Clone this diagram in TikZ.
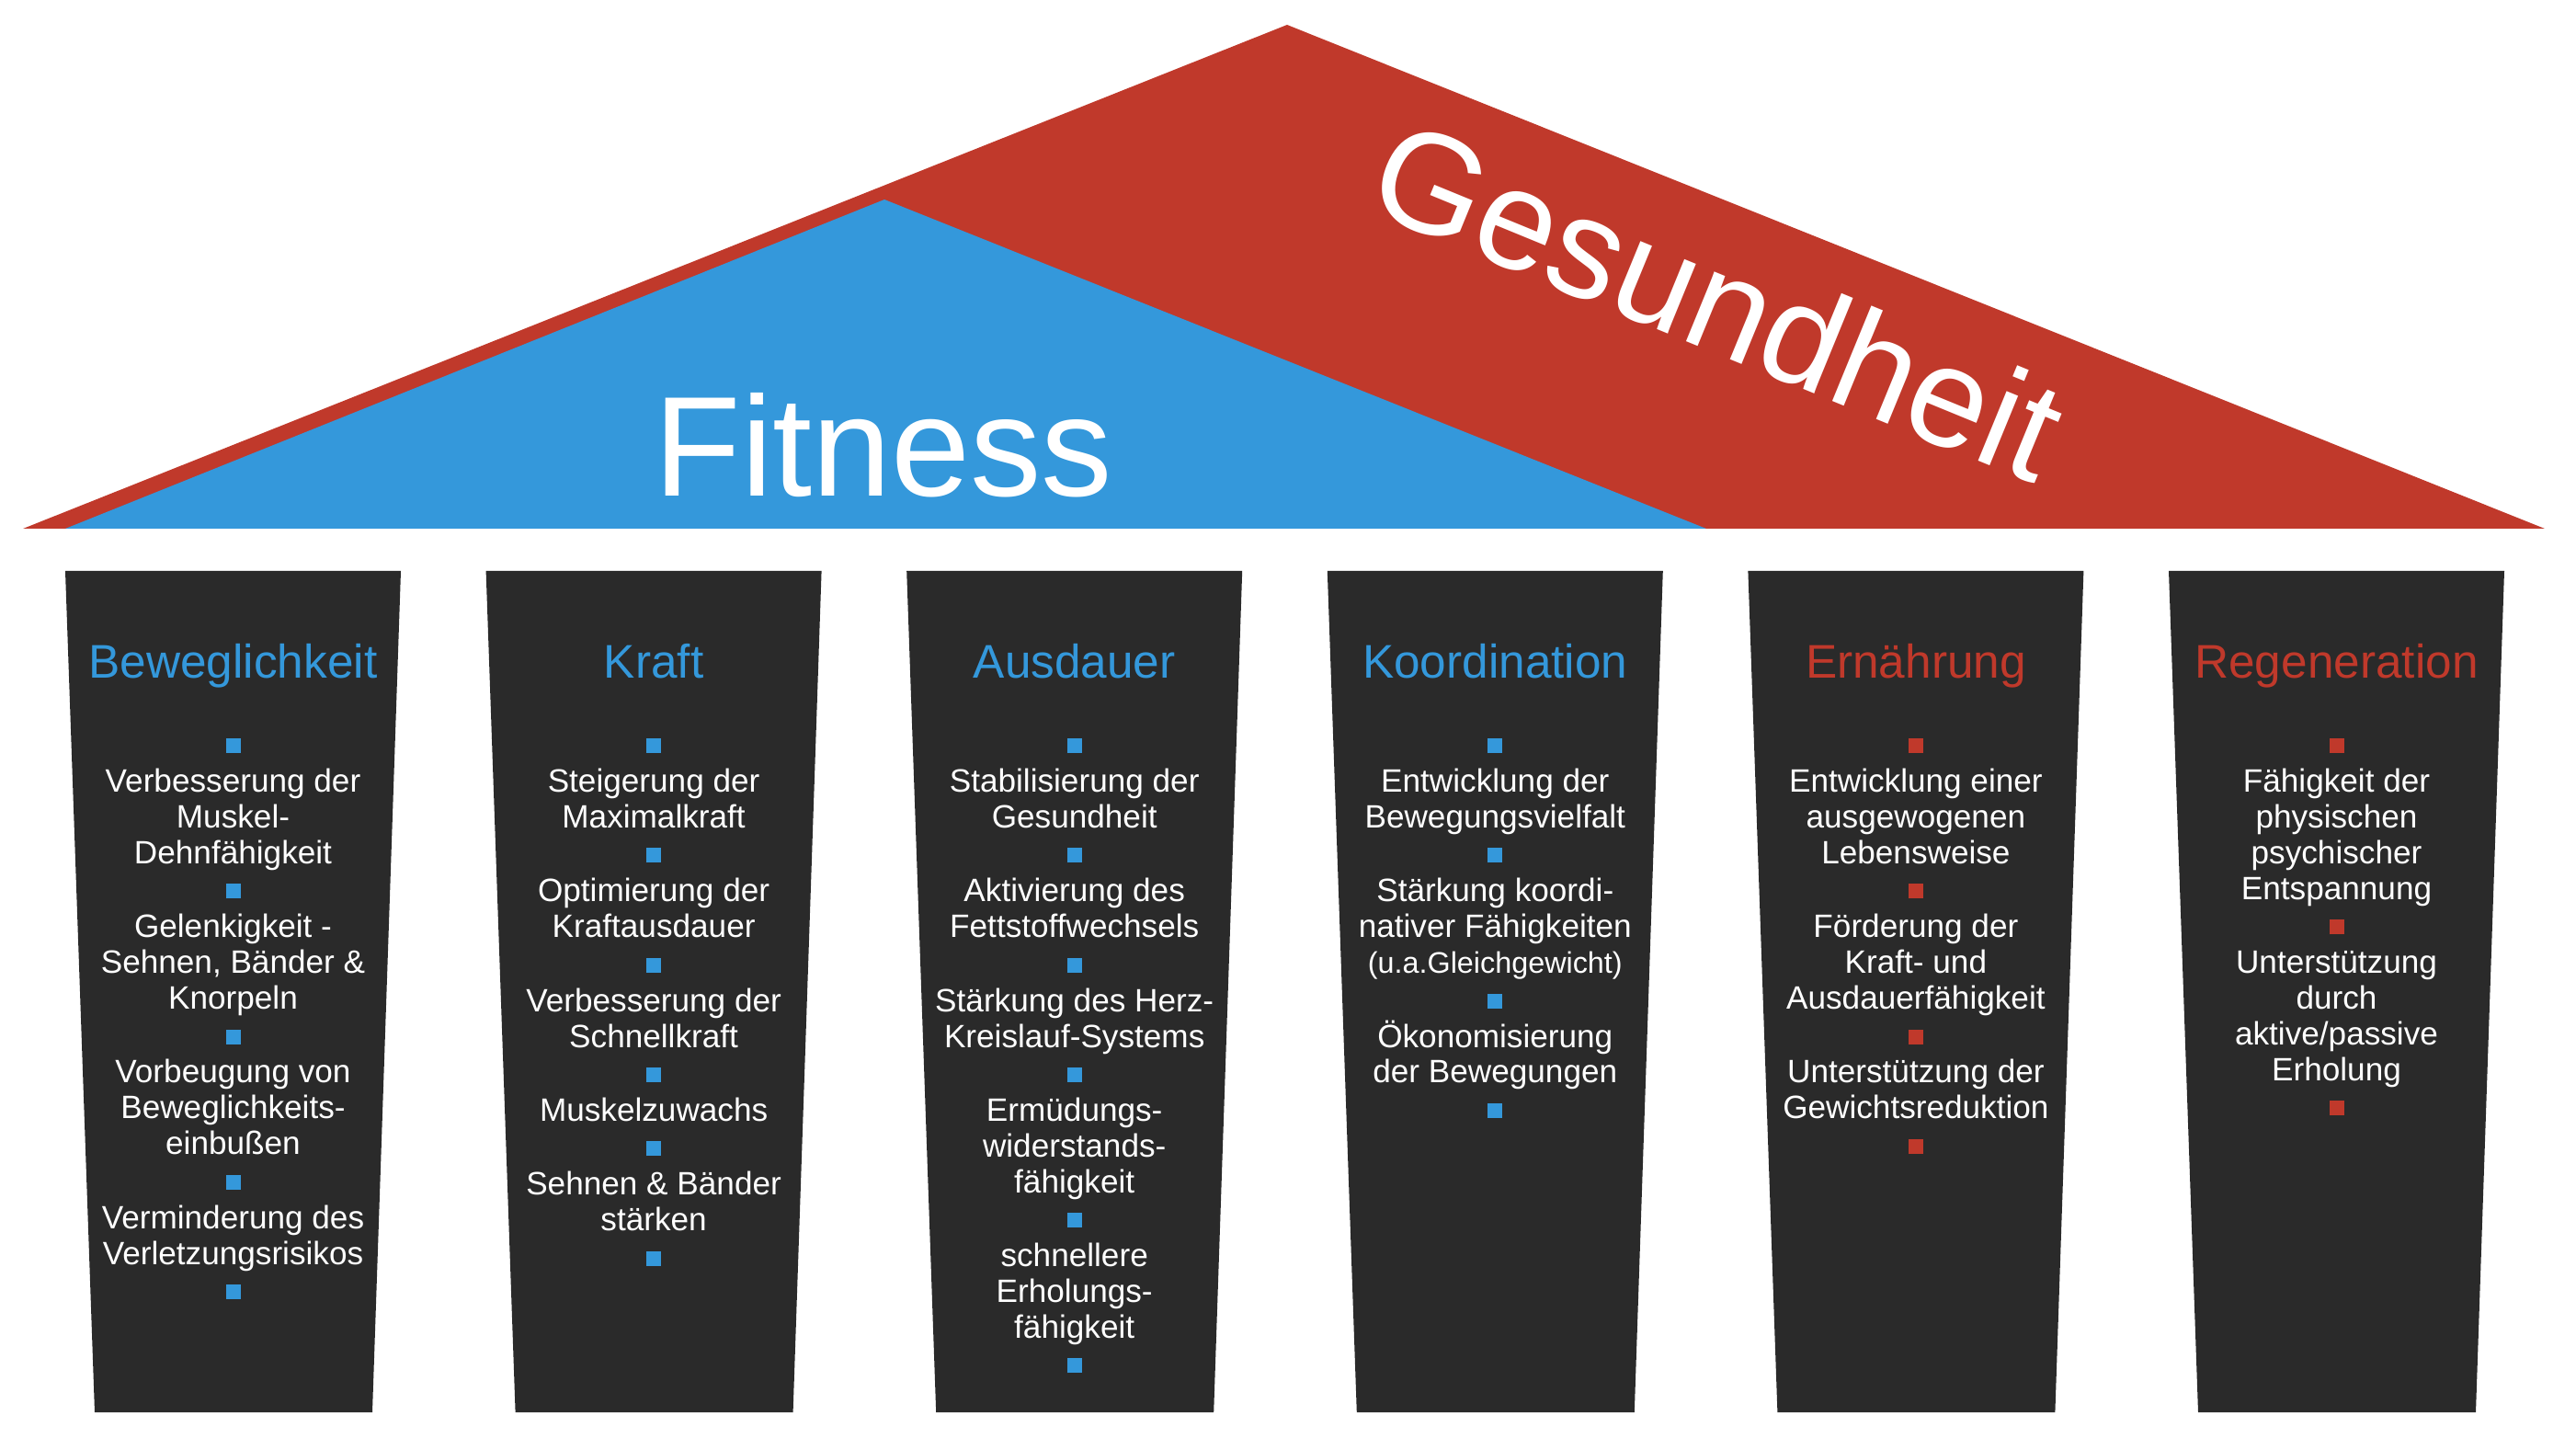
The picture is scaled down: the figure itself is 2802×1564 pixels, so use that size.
\documentclass[tikz,border=0pt]{standalone}
\usepackage{fontspec}
\setmainfont{Liberation Sans}
\definecolor{fblue}{HTML}{3498DB}
\definecolor{fred}{HTML}{C0392B}
\definecolor{pillar}{HTML}{2A2A2A}
\newcommand\bb{\textcolor{fblue}{\rule[0.28pt]{4.55pt}{4.55pt}}}
\newcommand\rb{\textcolor{fred}{\rule[0.28pt]{4.55pt}{4.55pt}}}
\begin{document}
\begin{tikzpicture}[x=0.01cm,y=-0.01cm,
  pillarshape/.style={fill=pillar,draw=none},
  coltitle/.style={anchor=base,inner sep=0pt,font=\fontsize{14.6pt}{17pt}\selectfont},
  colbody/.style={anchor=north,inner sep=0pt,align=center,text=white,font=\fontsize{10pt}{11.07pt}\selectfont},
  rooftext/.style={anchor=base,inner sep=0pt,text=white,font=\fontsize{44pt}{50pt}\selectfont}]
\useasboundingbox (0,0) rectangle (2802,1564);
\fill[white] (0,0) rectangle (2802,1564);
% roof
\fill[fred] (25,575) -- (1400,27) -- (2768,575) -- cycle;
\fill[fblue] (71,575) -- (962,217) -- (1856,575) -- cycle;
\node[rooftext] (fitness) at (961,540) {Fitness};
\node[rooftext,rotate=-22.3] (gesundheit) at (1848,377) {Gesundheit};
% pillars
\foreach \i in {0,...,5}{
  \pgfmathsetmacro{\xl}{71+457.6*\i}
  \fill[pillarshape] (\xl,621) -- (\xl+365,621) -- (\xl+334,1536) -- (\xl+32,1536) -- cycle;
}
% titles
\node[coltitle,text=fblue] (t1) at (253.5,738) {Beweglichkeit};
\node[coltitle,text=fblue] (t2) at (711.1,738) {Kraft};
\node[coltitle,text=fblue] (t3) at (1168.7,738) {Ausdauer};
\node[coltitle,text=fblue] (t4) at (1626.3,738) {Koordination};
\node[coltitle,text=fred] (t5) at (2083.9,738) {Ernährung};
\node[coltitle,text=fred] (t6) at (2541.5,738) {Regeneration};
% bodies
\node[colbody] (b1) at (253.5,802.5) {\bb\\[0.7pt]Verbesserung der\\Muskel-\\Dehnfähigkeit\\\bb\\[0.7pt]Gelenkigkeit -\\Sehnen, Bänder \&\\Knorpeln\\\bb\\[0.7pt]Vorbeugung von\\Beweglichkeits-\\einbußen\\\bb\\[0.7pt]Verminderung des\\Verletzungsrisikos\\\bb};
\node[colbody] (b2) at (711.1,802.5) {\bb\\[0.7pt]Steigerung der\\Maximalkraft\\\bb\\[0.7pt]Optimierung der\\Kraftausdauer\\\bb\\[0.7pt]Verbesserung der\\Schnellkraft\\\bb\\[0.7pt]Muskelzuwachs\\\bb\\[0.7pt]Sehnen \& Bänder\\stärken\\\bb};
\node[colbody] (b3) at (1168.7,802.5) {\bb\\[0.7pt]Stabilisierung der\\Gesundheit\\\bb\\[0.7pt]Aktivierung des\\Fettstoffwechsels\\\bb\\[0.7pt]Stärkung des Herz-\\Kreislauf-Systems\\\bb\\[0.7pt]Ermüdungs-\\widerstands-\\fähigkeit\\\bb\\[0.7pt]schnellere\\Erholungs-\\fähigkeit\\\bb};
\node[colbody] (b4) at (1626.3,802.5) {\bb\\[0.7pt]Entwicklung der\\Bewegungsvielfalt\\\bb\\[0.7pt]Stärkung koordi-\\nativer Fähigkeiten\\{\fontsize{9.2pt}{11.07pt}\selectfont (u.a.Gleichgewicht)}\\\bb\\[0.7pt]Ökonomisierung\\der Bewegungen\\\bb};
\node[colbody] (b5) at (2083.9,802.5) {\rb\\[0.7pt]Entwicklung einer\\ausgewogenen\\Lebensweise\\\rb\\[0.7pt]Förderung der\\Kraft- und\\Ausdauerfähigkeit\\\rb\\[0.7pt]Unterstützung der\\Gewichtsreduktion\\\rb};
\node[colbody] (b6) at (2541.5,802.5) {\rb\\[0.7pt]Fähigkeit der\\physischen\\psychischer\\Entspannung\\\rb\\[0.7pt]Unterstützung\\durch\\aktive/passive\\Erholung\\\rb};
\end{tikzpicture}
\end{document}
